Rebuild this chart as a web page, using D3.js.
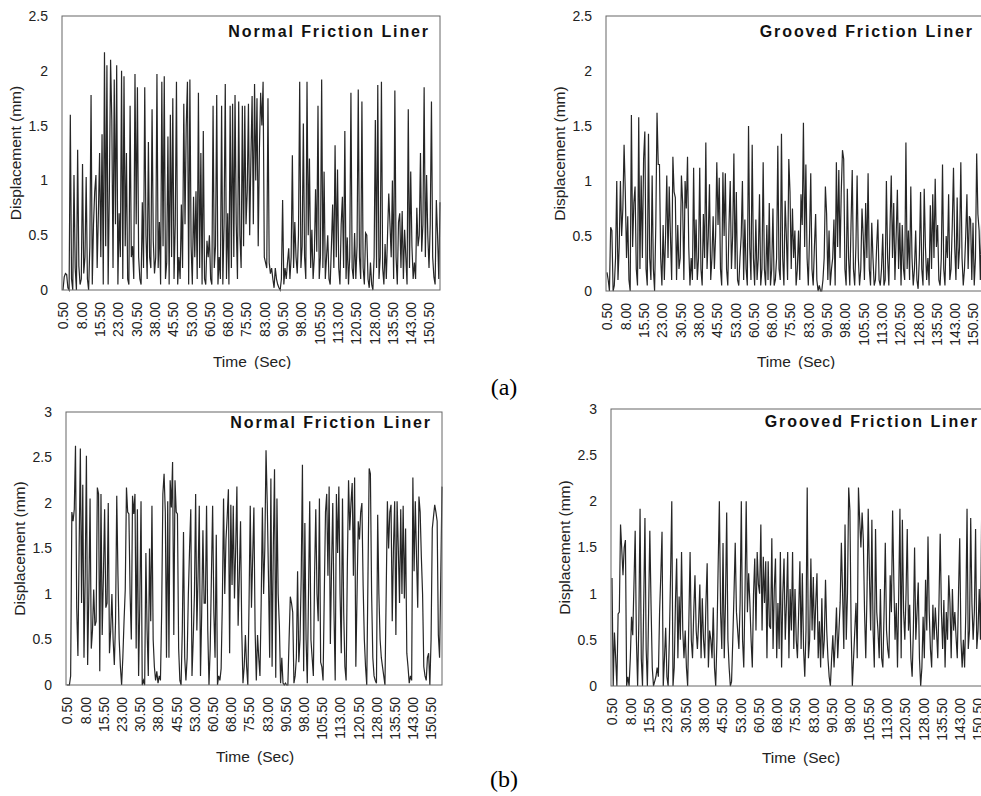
<!DOCTYPE html>
<html>
<head>
<meta charset="utf-8">
<script src="https://cdn.jsdelivr.net/npm/d3@7"></script>
<style>
  body { margin: 0; background: #fff; }
  svg { display: block; font-family: Arial, "Liberation Sans", sans-serif; }
</style>
</head>
<body>
<div id="chart"></div>
<script>
// sampling: every 0.5 s starting at 0.50 s
const timeStart = 0.5;
const timeStep = 0.5;
const timeEnd = 155.0;

const tickLabels = ["0.50", "8.00", "15.50", "23.00", "30.50", "38.00", "45.50", "53.00", "60.50", "68.00",
  "75.50", "83.00", "90.50", "98.00", "105.50", "113.00", "120.50", "128.00", "135.50", "143.00", "150.50"];
const yTicksTop = [0, 0.5, 1, 1.5, 2, 2.5];
const yTicksBottom = [0, 0.5, 1, 1.5, 2, 2.5, 3];
const panelTitles = ["Normal Friction Liner", "Grooved Friction Liner"];
const figureLabels = ["(a)", "(b)"];

// displacement (mm), (a) normal liner
const normalA = [
  0, 0.12, 0.15, 0.14, 0.02, 0, 1.6, 0.1, 0, 1.05, 0.2, 0, 1.28, 0.22, 0.05,
  0.1, 1.15, 0.15, 0.3, 1.03, 0.1, 0, 0.4, 1.78, 0.05, 0.6, 0.9, 1.05, 0.2, 0.7,
  1.25, 0.3, 1.42, 0.05, 2.17, 0.4, 2.05, 0.05, 0.9, 2.1, 1.55, 0.2, 1.92, 0.6, 2.05,
  0.05, 0.7, 0.3, 2.0, 0.1, 1.95, 0.4, 1.25, 0.1, 0.05, 1.68, 0.3, 0.4, 0.1, 1.97,
  0.6, 1.85, 0.3, 0.1, 0.05, 0.8, 0.2, 1.85, 0.5, 0.1, 1.35, 0.3, 0.2, 1.65, 0.45,
  0.15, 0.3, 1.97, 0.2, 0.62, 0.05, 1.9, 0.4, 1.95, 0.1, 0.25, 1.4, 0.05, 1.6, 0.3,
  1.75, 0.1, 0.6, 1.9, 0.05, 0.3, 0.1, 0.78, 0.2, 1.7, 0.6, 1.5, 1.9, 0.05, 1.92,
  0.4, 0.05, 0.85, 0.3, 0.9, 0.1, 1.8, 0.2, 1.25, 0.05, 1.45, 0.1, 0.05, 0.45, 0.3,
  0.5, 0.1, 0.05, 1.68, 0.2, 0.4, 1.78, 0.05, 0.3, 0.1, 1.68, 0.05, 0.6, 1.88, 0.1,
  0.7, 0.05, 1.68, 0.2, 1.7, 0.3, 1.78, 0.6, 0.1, 1.72, 0.5, 0.2, 1.68, 0.4, 1.68,
  0.6, 0.9, 1.7, 0.5, 1.2, 1.77, 0.6, 1.88, 1.0, 1.75, 0.4, 1.3, 1.8, 1.5, 1.9,
  0.3, 0.25, 0.2, 1.75, 0.25, 0.15, 0.2, 0.1, 0.02, 0.2, 0.1, 0.05, 0.02, 0, 0.1,
  0.82, 0.05, 0.2, 0.1, 0.25, 0.38, 0.1, 0.3, 1.23, 0.2, 0.62, 0.3, 0.15, 0.5, 1.9,
  0.2, 0.4, 1.52, 0.3, 0.1, 1.9, 0.5, 1.2, 0.2, 0.55, 0.1, 0.3, 0.92, 0.35, 1.68,
  0.1, 0.3, 1.92, 0.2, 1.08, 0.1, 0.3, 0.5, 0.1, 0.05, 0.4, 0.78, 0.2, 1.32, 0.3,
  1.1, 0.2, 0.05, 0.6, 0.85, 0.2, 1.45, 0.1, 0.48, 0.05, 0.3, 1.8, 0.2, 0.1, 0.52,
  0.1, 0.4, 1.83, 0.3, 0.1, 1.72, 0.2, 0.05, 0.52, 0.5, 0.1, 0.02, 0.25, 0.05, 0,
  0.3, 1.55, 0.2, 1.87, 0.1, 0.3, 1.9, 0.2, 0.05, 0.42, 0.1, 0.5, 0.88, 0.6, 0.3,
  1.0, 0.1, 1.82, 0.3, 0.05, 0.62, 0.7, 0.2, 0.72, 0.1, 0.55, 0.3, 0.05, 1.65, 0.2,
  1.08, 0.4, 0.1, 0.25, 0.1, 0.75, 0.4, 0.5, 1.25, 0.35, 0.6, 1.85, 0.3, 1.05, 0.5,
  0.2, 0.6, 1.72, 0.3, 0.12, 0.05, 0.82, 0.5, 0.1, 0.8
];

// (a) grooved liner
const groovedA = [
  0.17, 0.1, 0, 0.58, 0.55, 0, 0.05, 0.3, 1.0, 0.1, 0.4, 1.0, 0.5, 0.75, 1.33,
  0.9, 0.3, 0.68, 0.1, 0, 1.6, 0.4, 0.8, 0.95, 0.2, 0.05, 1.58, 0.2, 1.05, 0.3,
  1.2, 1.45, 0.2, 0.05, 1.43, 0.3, 0.1, 1.05, 0.2, 0, 0.6, 1.62, 1.15, 1.15, 0.3,
  0.05, 0.6, 0.1, 0.5, 1.05, 0.3, 0.95, 0.5, 0.1, 1.22, 0.9, 0.85, 0.1, 0.6, 0.2,
  0.3, 1.05, 0.8, 0.1, 1.0, 0.75, 1.22, 0.4, 0.05, 0.3, 0.1, 1.12, 0.2, 0.65, 0.1,
  0.3, 1.12, 0.2, 0.05, 0.7, 0.3, 1.35, 0.2, 0.5, 0.97, 0.1, 0.3, 0.68, 0.2, 0.5,
  1.17, 0.6, 1.03, 0.2, 0.05, 1.08, 0.5, 1.07, 0.2, 0.05, 0.6, 1.0, 0.2, 0.5, 1.25,
  0.2, 0.9, 0.1, 0.05, 0.3, 0.5, 1.0, 0.1, 0.65, 0.2, 0.05, 1.5, 0.4, 0.1, 1.33,
  0.3, 0.05, 0.65, 0.1, 0.3, 0.88, 0.05, 0.2, 1.17, 0.2, 0.05, 0.6, 0.1, 0.8, 0.05,
  0.2, 0.75, 0.05, 0.1, 0.3, 1.32, 0.2, 0.1, 1.43, 0.3, 0.05, 0.82, 0.5, 0.1, 1.2,
  0.9, 0.2, 0.75, 0.3, 0.55, 0.05, 0.2, 0.55, 0.1, 0.88, 0.6, 1.53, 0.4, 1.15, 0.3,
  0.05, 0.5, 1.07, 0.2, 0.05, 0.4, 0.7, 0.1, 0, 0.05, 0, 0, 0.1, 0.3, 0.95,
  0.7, 0.1, 0.55, 0.05, 0.2, 0.3, 0.65, 0.05, 1.17, 0.4, 1.1, 0.3, 0.9, 1.28, 1.2,
  0.2, 0.05, 0.93, 0.3, 0.05, 0.6, 1.1, 0.2, 0.05, 0.4, 1.05, 0.3, 0.05, 0.2, 0.75,
  0.5, 0.1, 0.8, 0.3, 1.07, 0.2, 0.05, 0.62, 0.3, 0.05, 0.1, 0.4, 0.65, 0.1, 0.05,
  0.2, 0.52, 0.05, 0.1, 1.0, 0.3, 0.05, 0.6, 1.05, 0.3, 0.8, 0.1, 0.5, 0.92, 0.2,
  0.62, 0.05, 0.6, 0.2, 0.1, 1.35, 0.2, 0.55, 0.1, 0.95, 0.3, 0.05, 0.2, 0.55, 0.1,
  0.02, 0.3, 0.9, 0.2, 0.05, 0.93, 0.4, 0.1, 0.3, 0.05, 0.78, 0.2, 0.88, 0.3, 1.02,
  0.4, 0.6, 0.1, 0.05, 0.3, 1.15, 0.2, 0.05, 0.5, 0.3, 0.88, 0.1, 0.2, 0.6, 1.12,
  0.4, 0.1, 0.85, 0.2, 0.4, 1.17, 0.3, 0.05, 0.2, 0.5, 0.88, 0.2, 0.68, 0.65, 0.1,
  0.62, 0.05, 0.3, 1.25, 0.7, 0.55, 0.1, 0.6, 0.9, 0.3
];

// (b) normal liner
const normalB = [
  0, 0, 0, 0.1, 1.9, 1.8, 1.93, 2.63, 0.85, 0.32, 1.5, 2.6, 0.9, 2.2, 0.3,
  1.2, 2.52, 0.22, 1.0, 2.05, 0.4, 0.6, 1.05, 0.65, 0.7, 2.17, 2.1, 0.15, 2.1, 0.55,
  1.2, 1.93, 0.85, 0.9, 2.0, 0.35, 0.6, 1.0, 0.5, 0.22, 0.7, 2.08, 1.2, 0.5, 0.2,
  0, 0.3, 0.7, 1.05, 2.17, 1.9, 1.88, 1.0, 0.5, 2.08, 1.88, 2.1, 0.4, 1.93, 0.1,
  0.9, 2.02, 0, 0.05, 0, 1.45, 0.6, 0.1, 1.5, 0.7, 1.97, 0.5, 0.2, 0.05, 0.15,
  0.02, 0.1, 0.05, 0.8, 2.1, 2.32, 1.9, 0.3, 2.02, 0.3, 2.25, 1.95, 2.45, 0.55, 2.25,
  1.9, 1.88, 0.4, 0.05, 0, 0.6, 1.68, 0.3, 0.05, 0.3, 1.0, 1.5, 1.93, 0.1, 0.5,
  1.0, 2.1, 0.6, 1.2, 1.97, 0.1, 0.8, 1.7, 0.9, 0.9, 1.97, 0.6, 0, 0.4, 1.2,
  1.97, 0.8, 0.3, 1.65, 0, 0.1, 0.05, 0.18, 0.9, 2.05, 1.0, 1.6, 1.85, 2.15, 0.35,
  1.98, 1.1, 1.97, 0.95, 1.5, 2.18, 0.65, 1.2, 1.8, 0.6, 0.02, 0.2, 0.55, 0.2, 0,
  0.9, 1.97, 0.85, 1.4, 1.95, 0.6, 0.05, 0.55, 0.3, 0.1, 0.9, 1.95, 1.0, 1.5, 2.58,
  2.0, 1.2, 0.3, 2.27, 0.2, 1.5, 2.37, 0.08, 2.05, 1.0, 0.65, 0.02, 0.3, 0.02, 0,
  0.02, 0, 0, 0.5, 0.97, 0.9, 0.8, 0.02, 0.1, 0.3, 1.25, 0.25, 0.5, 1.2, 2.42,
  0.15, 1.78, 0.5, 0.02, 1.0, 2.02, 0.5, 0.3, 0.1, 1.2, 1.93, 1.0, 0.7, 2.05, 0.25,
  0.2, 0.05, 1.0, 1.9, 2.1, 1.2, 2.18, 0.45, 1.3, 2.0, 0.8, 0.05, 2.1, 1.45, 2.18,
  1.0, 0.35, 2.05, 0.8, 0.2, 0.05, 1.3, 2.25, 1.7, 2.0, 2.22, 1.2, 2.28, 0.2, 1.0,
  1.8, 1.6, 1.9, 2.0, 1.1, 0.5, 0.2, 0, 1.2, 2.38, 2.32, 1.0, 0.3, 0.1, 0.05,
  0.02, 1.87, 1.0, 0.5, 0.3, 0.2, 0.1, 0, 1.0, 2.02, 1.5, 1.9, 1.98, 0.7, 1.5,
  2.02, 0.55, 2.02, 1.5, 0.9, 1.93, 1.0, 1.97, 0.95, 1.72, 0.35, 0.2, 0.02, 0.1, 0.05,
  2.28, 1.25, 2.02, 1.4, 0.85, 2.07, 1.9, 1.4, 1.0, 0.2, 0.1, 0.05, 0.3, 0.35, 0,
  0.5, 1.72, 1.85, 1.98, 1.9, 1.8, 0.55, 0.3, 1.2, 2.18
];

// (b) grooved liner
const groovedB = [
  1.17, 0, 0.58, 0.3, 0, 0.78, 0.8, 1.75, 1.48, 1.2, 1.5, 1.58, 0, 0.1, 0,
  0.3, 0.75, 0.55, 1.1, 1.68, 0.5, 0, 0.7, 1.92, 0.3, 0, 0.9, 1.82, 0.4, 0,
  0.8, 1.68, 0.88, 0.2, 0, 0.05, 0.1, 0.2, 0.1, 0.8, 1.2, 1.67, 0, 0.3, 0.63,
  0.1, 0, 0.5, 1.2, 2.0, 0, 0.2, 0.9, 1.38, 0.3, 0.97, 0.5, 1.45, 0.6, 0.3,
  0.6, 0.2, 0, 0.7, 1.45, 0.5, 0.3, 0.8, 1.2, 0.6, 0.4, 0.7, 1.1, 0.3, 0.95,
  0.5, 0.3, 0.9, 1.33, 0.2, 0.6, 0.5, 0.3, 0.85, 0.2, 0, 0.5, 1.3, 2.0, 0.8,
  0.4, 1.55, 0.3, 0.9, 1.88, 0.5, 0.2, 0, 0.05, 0.5, 1.0, 1.55, 0.8, 0.6, 0.4,
  0.9, 2.0, 0.5, 0.2, 1.0, 2.0, 0.8, 1.22, 0.9, 0.5, 0.2, 1.0, 1.38, 0.6, 1.45,
  1.1, 1.0, 1.75, 0.6, 1.4, 0.9, 1.35, 0.3, 1.35, 0.65, 0.62, 1.6, 0.4, 1.05, 1.38,
  0.3, 0.9, 0.4, 1.45, 0.2, 1.0, 1.38, 0.5, 0.9, 1.45, 0.3, 1.05, 0.6, 1.45, 0.4,
  1.05, 0.5, 0.3, 0.8, 1.35, 0.4, 1.22, 0.4, 0.1, 0.6, 2.15, 0.3, 0.5, 1.38, 0.6,
  1.18, 0.5, 0.9, 1.22, 0.3, 0.7, 0.2, 0.95, 0.3, 0.5, 1.15, 0.6, 0.3, 0.1, 0,
  0.3, 0.55, 0.2, 0.5, 0.85, 0.3, 0.6, 0.9, 1.55, 1.0, 0.4, 1.75, 0.5, 1.0, 2.15,
  1.9, 0.6, 0, 0.3, 0.6, 0.9, 0.3, 2.15, 1.8, 1.5, 1.88, 1.58, 0.8, 0.3, 1.0,
  1.92, 1.2, 0.6, 1.8, 0.6, 0.2, 1.7, 0.8, 0.6, 0.3, 1.05, 0.3, 0.2, 0.8, 1.55,
  0.6, 0.4, 0.3, 1.2, 0.8, 1.9, 1.13, 0.5, 0.9, 0.2, 1.0, 1.92, 0.3, 1.8, 0.8,
  0.5, 1.0, 1.7, 0.6, 0.88, 0.3, 0.1, 0.6, 1.5, 0.5, 0.8, 1.12, 0.3, 0, 0.2,
  0.75, 0.3, 1.15, 0.6, 1.62, 0.8, 0.4, 0.2, 0.88, 0.5, 0.85, 0.6, 0.3, 0.9, 1.65,
  0.8, 0.4, 0.93, 0.2, 0.8, 0.5, 1.2, 0.9, 0.3, 1.05, 0.6, 0.8, 0.53, 0.3, 1.0,
  1.6, 0.5, 0.2, 0.5, 0.2, 0.8, 1.92, 0.4, 0.6, 1.82, 0.9, 0.5, 0.8, 1.7, 0.4,
  0.6, 1.05, 0.5, 1.9, 0.9, 1.1, 1.1, 0.6, 1.2, 0.8
];

const width = 981, height = 796;

const panels = [
  { series: normalA, title: panelTitles[0], yMax: 2.5, yTicks: yTicksTop, left: 62, top: 16, w: 378, h: 274, titleY: 21, xTitleY: 77 },
  { series: groovedA, title: panelTitles[1], yMax: 2.5, yTicks: yTicksTop, left: 606, top: 16, w: 378, h: 275, titleY: 21, xTitleY: 76 },
  { series: normalB, title: panelTitles[0], yMax: 3, yTicks: yTicksBottom, left: 66, top: 412, w: 376, h: 273, titleY: 16, xTitleY: 77 },
  { series: groovedB, title: panelTitles[1], yMax: 3, yTicks: yTicksBottom, left: 611, top: 409, w: 378, h: 277, titleY: 18, xTitleY: 77 }
];

const svg = d3.select("#chart").append("svg")
  .attr("width", width)
  .attr("height", height);

svg.append("rect").attr("width", width).attr("height", height).attr("fill", "#fff");

// the top row is cut just under its axis titles in the source figure
svg.append("clipPath").attr("id", "topRow")
  .append("rect").attr("x", 0).attr("y", 0).attr("width", width).attr("height", 369);

const topRow = svg.append("g").attr("clip-path", "url(#topRow)");
const bottomRow = svg.append("g");

function drawPanel(root, p) {
  const g = root.append("g");
  const x = d3.scaleLinear().domain([timeStart, timeEnd]).range([p.left + 1, p.left + p.w]);
  const y = d3.scaleLinear().domain([0, p.yMax]).range([p.top + p.h, p.top]);

  const line = d3.line()
    .x((d, i) => x(timeStart + i * timeStep))
    .y(d => y(d));

  g.append("path")
    .datum(p.series)
    .attr("fill", "none")
    .attr("stroke", "#262626")
    .attr("stroke-width", 1.2)
    .attr("stroke-linejoin", "miter")
    .attr("d", line);

  g.append("rect")
    .attr("x", p.left).attr("y", p.top)
    .attr("width", p.w).attr("height", p.h)
    .attr("fill", "none")
    .attr("stroke", "#666")
    .attr("stroke-width", 1);

  // x axis: rotated time labels
  const xa = g.append("g")
    .attr("transform", `translate(0,${p.top + p.h})`)
    .call(d3.axisBottom(x)
      .tickValues(tickLabels.map(Number))
      .tickSize(0)
      .tickFormat(d3.format(".2f")));
  xa.select(".domain").remove();
  xa.selectAll("text")
    .attr("transform", "rotate(-90)")
    .attr("text-anchor", "end")
    .attr("x", -12)
    .attr("y", 0)
    .attr("dy", "0.35em")
    .attr("font-size", 14)
    .attr("font-family", "Arial, 'Liberation Sans', sans-serif")
    .attr("fill", "#222");

  // y axis
  const ya = g.append("g")
    .attr("transform", `translate(${p.left},0)`)
    .call(d3.axisLeft(y)
      .tickValues(p.yTicks)
      .tickSize(0)
      .tickPadding(14)
      .tickFormat(d => String(d)));
  ya.select(".domain").remove();
  ya.selectAll("text")
    .attr("font-size", 14)
    .attr("font-family", "Arial, 'Liberation Sans', sans-serif")
    .attr("fill", "#222");

  g.append("text")
    .attr("transform", `translate(${p.left - 46},${p.top + p.h / 2}) rotate(-90)`)
    .attr("text-anchor", "middle")
    .attr("dy", "0.35em")
    .attr("font-size", 15.5)
    .attr("fill", "#222")
    .text("Displacement (mm)");

  g.append("text")
    .attr("x", p.left + p.w / 2 + 1)
    .attr("y", p.top + p.h + p.xTitleY)
    .attr("text-anchor", "middle")
    .attr("font-size", 15.5)
    .attr("word-spacing", 3)
    .attr("fill", "#222")
    .text("Time (Sec)");

  g.append("text")
    .attr("x", p.left + p.w - 10)
    .attr("y", p.top + p.titleY)
    .attr("text-anchor", "end")
    .attr("font-size", 16)
    .attr("font-weight", "bold")
    .attr("letter-spacing", 1.9)
    .attr("fill", "#111")
    .text(p.title);
}

drawPanel(topRow, panels[0]);
drawPanel(topRow, panels[1]);
drawPanel(bottomRow, panels[2]);
drawPanel(bottomRow, panels[3]);

svg.selectAll(".figlabel")
  .data(figureLabels)
  .enter().append("text")
  .attr("class", "figlabel")
  .attr("x", 504)
  .attr("y", (d, i) => i === 0 ? 395 : 787)
  .attr("text-anchor", "middle")
  .attr("font-family", "'Liberation Serif', 'Times New Roman', serif")
  .attr("font-size", 24)
  .attr("fill", "#000")
  .text(d => d);
</script>
</body>
</html>
